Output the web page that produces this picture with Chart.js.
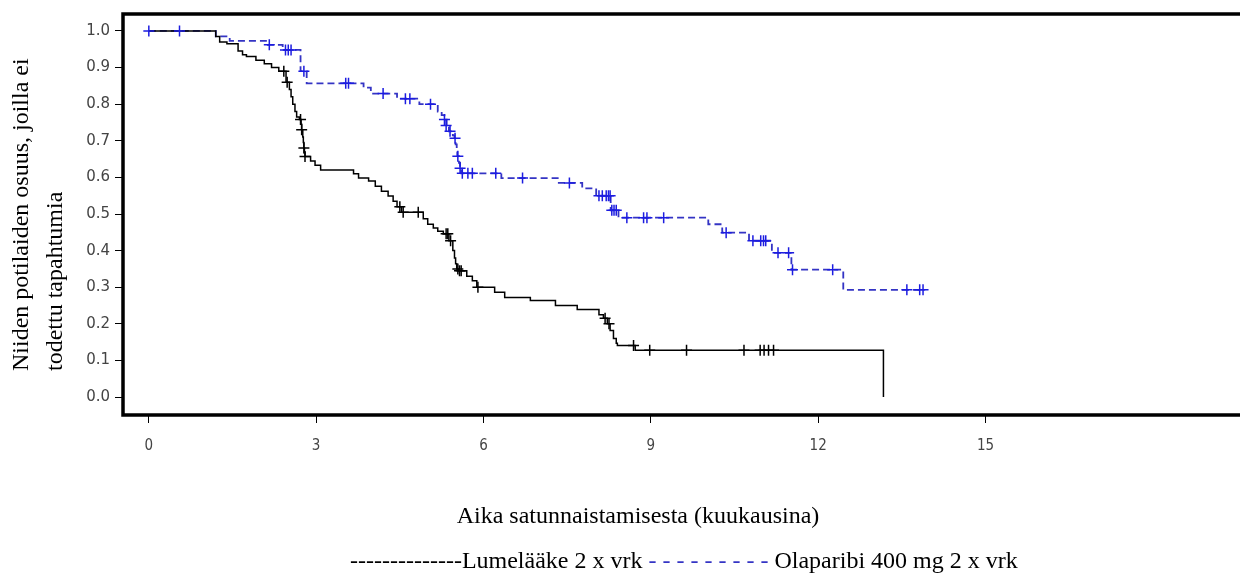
<!DOCTYPE html>
<html><head><meta charset="utf-8">
<script src="https://cdn.jsdelivr.net/npm/chart.js@4/dist/chart.umd.min.js"></script>
<style>html,body{margin:0;padding:0;background:#fff;overflow:hidden}</style>
</head><body>
<canvas id="c" width="1240" height="579"></canvas>
<script>
// ---- data ----
const xTicks = [0, 3, 6, 9, 12, 15];
const yTicks = [0, 0.1, 0.2, 0.3, 0.4, 0.5, 0.6, 0.7, 0.8, 0.9, 1.0];
const yTickLabels = ['0.0','0.1','0.2','0.3','0.4','0.5','0.6','0.7','0.8','0.9','1.0'];

const olaTimes = [0, 1.20, 1.45, 2.10, 2.40, 2.72, 2.83, 3.85, 3.98, 4.45, 4.85, 5.18, 5.25, 5.30, 5.34, 5.38, 5.45, 5.48, 5.50, 5.52, 5.53, 5.56, 5.58, 5.60, 6.32, 7.35, 7.77, 8.02, 8.28, 8.42, 10.03, 10.28, 10.76, 11.17, 11.52, 12.45, 13.90];
const olaSurv  = [1.0, 0.985, 0.973, 0.962, 0.948, 0.89, 0.857, 0.845, 0.829, 0.815, 0.80, 0.78, 0.77, 0.758, 0.742, 0.726, 0.715, 0.707, 0.69, 0.675, 0.658, 0.64, 0.625, 0.611, 0.598, 0.585, 0.57, 0.55, 0.51, 0.49, 0.472, 0.449, 0.427, 0.394, 0.348, 0.293, 0.293];
const olaCensorTimes = [0, 0.55, 2.16, 2.45, 2.50, 2.55, 2.78, 3.53, 3.58, 4.20, 4.60, 4.68, 5.05, 5.30, 5.33, 5.40, 5.49, 5.54, 5.58, 5.62, 5.72, 5.80, 6.22, 6.70, 7.54, 8.07, 8.13, 8.20, 8.24, 8.27, 8.30, 8.34, 8.38, 8.57, 8.87, 8.93, 9.23, 10.35, 10.83, 10.97, 11.02, 11.06, 11.28, 11.47, 11.54, 12.26, 13.59, 13.82, 13.88];
const olaCensorSurv  = [1, 1, 0.962, 0.948, 0.948, 0.948, 0.89, 0.857, 0.857, 0.829, 0.815, 0.815, 0.80, 0.758, 0.742, 0.726, 0.707, 0.658, 0.625, 0.611, 0.611, 0.611, 0.611, 0.598, 0.585, 0.55, 0.55, 0.55, 0.55, 0.55, 0.51, 0.51, 0.51, 0.49, 0.49, 0.49, 0.49, 0.449, 0.427, 0.427, 0.427, 0.427, 0.394, 0.394, 0.348, 0.348, 0.293, 0.293, 0.293];

const plaTimes = [0, 1.20, 1.27, 1.40, 1.60, 1.68, 1.75, 1.92, 2.07, 2.20, 2.33, 2.46, 2.52, 2.55, 2.58, 2.62, 2.65, 2.70, 2.73, 2.74, 2.76, 2.77, 2.78, 2.79, 2.80, 2.90, 2.98, 3.08, 3.67, 3.76, 3.94, 4.06, 4.17, 4.29, 4.38, 4.45, 4.53, 4.92, 5.00, 5.10, 5.18, 5.28, 5.38, 5.45, 5.48, 5.50, 5.52, 5.55, 5.70, 5.80, 5.88, 6.20, 6.38, 6.84, 7.29, 7.68, 8.07, 8.15, 8.22, 8.27, 8.33, 8.38, 8.40, 8.72, 13.17];
const plaSurv  = [1.0, 0.985, 0.97, 0.965, 0.945, 0.935, 0.93, 0.92, 0.91, 0.90, 0.89, 0.86, 0.84, 0.82, 0.80, 0.78, 0.765, 0.758, 0.745, 0.73, 0.71, 0.695, 0.68, 0.667, 0.657, 0.645, 0.633, 0.62, 0.61, 0.598, 0.59, 0.576, 0.562, 0.549, 0.535, 0.52, 0.505, 0.487, 0.472, 0.462, 0.453, 0.446, 0.427, 0.40, 0.38, 0.364, 0.35, 0.345, 0.33, 0.318, 0.30, 0.286, 0.272, 0.264, 0.25, 0.239, 0.225, 0.215, 0.20, 0.182, 0.16, 0.147, 0.141, 0.128, 0.0];
const plaCensorTimes = [2.42, 2.48, 2.72, 2.74, 2.78, 2.80, 4.50, 4.56, 4.83, 5.33, 5.36, 5.41, 5.54, 5.57, 5.60, 5.90, 8.18, 8.25, 8.69, 8.98, 9.64, 10.67, 10.96, 11.03, 11.11, 11.20];
const plaCensorSurv  = [0.89, 0.86, 0.758, 0.73, 0.68, 0.657, 0.52, 0.505, 0.505, 0.446, 0.446, 0.427, 0.35, 0.345, 0.345, 0.30, 0.215, 0.20, 0.141, 0.128, 0.128, 0.128, 0.128, 0.128, 0.128, 0.128];

const seriesNames = ['Lumelääke 2 x vrk', 'Olaparibi 400 mg 2 x vrk'];
const yTitleLines = ['Niiden potilaiden osuus, joilla ei', 'todettu tapahtumia'];
const xTitle = 'Aika satunnaistamisesta (kuukausina)';

const BLUE = '#3434c4';
const BLUE_MARK = '#1c1ce0';
const pts = (xs, ys) => xs.map((x, i) => ({x, y: ys[i]}));

const deco = {
  id: 'deco',
  afterDraw(chart) {
    const {ctx, chartArea: a} = chart;
    ctx.save();
    ctx.strokeStyle = '#000';
    ctx.lineWidth = 3.5;
    ctx.beginPath();
    ctx.moveTo(1240, a.top);
    ctx.lineTo(a.left, a.top);
    ctx.lineTo(a.left, a.bottom);
    ctx.lineTo(1240, a.bottom);
    ctx.stroke();

    ctx.fillStyle = '#000';
    ctx.font = '24px "Liberation Serif", "Times New Roman", serif';
    ctx.textBaseline = 'middle';
    const yStarts = [[22, 371], [56, 371]];
    yTitleLines.forEach((t, i) => {
      ctx.save();
      ctx.translate(yStarts[i][0], yStarts[i][1]);
      ctx.rotate(-Math.PI / 2);
      ctx.textAlign = 'left';
      ctx.fillText(t, 0, 0);
      ctx.restore();
    });
    ctx.textAlign = 'center';
    ctx.fillText(xTitle, 638, 517);
    ctx.textAlign = 'left';
    const parts = [
      ['--------------' + seriesNames[0] + ' ', '#000'],
      ['- - - - - - - - -', BLUE],
      [' ' + seriesNames[1], '#000']
    ];
    let x = 350;
    parts.forEach(([t, c]) => {
      ctx.fillStyle = c;
      ctx.fillText(t, x, 562);
      x += ctx.measureText(t).width;
    });
    ctx.restore();
  }
};

new Chart(document.getElementById('c'), {
  type: 'scatter',
  data: {
    datasets: [
      { label: 'ola-censor', data: pts(olaCensorTimes, olaCensorSurv), showLine: false,
        pointStyle: 'cross', pointRadius: 5.5, borderColor: BLUE_MARK, borderWidth: 1.5, order: 0 },
      { label: 'pla-censor', data: pts(plaCensorTimes, plaCensorSurv), showLine: false,
        pointStyle: 'cross', pointRadius: 5.5, borderColor: '#000', borderWidth: 1.5, order: 1 },
      { label: seriesNames[0], data: pts(plaTimes, plaSurv), showLine: true, stepped: true,
        borderColor: '#000', borderWidth: 1.5, pointRadius: 0, order: 2 },
      { label: seriesNames[1], data: pts(olaTimes, olaSurv), showLine: true, stepped: true,
        borderColor: BLUE, borderWidth: 1.8, borderDash: [7, 4], pointRadius: 0, order: 3 }
    ]
  },
  options: {
    responsive: false,
    animation: false,
    layout: { padding: { top: 12, right: 0, left: 0, bottom: 0 } },
    plugins: { legend: { display: false }, tooltip: { enabled: false } },
    scales: {
      x: {
        type: 'linear', min: -0.463, max: 19.437,
        afterBuildTicks: s => { s.ticks = xTicks.map(v => ({value: v})); },
        afterFit: s => { s.height = 164; },
        grid: { drawOnChartArea: false, drawTicks: true, tickLength: 8, color: '#000', lineWidth: 1 },
        border: { display: false },
        ticks: { padding: 14, color: '#444', font: { family: '"Liberation Sans Narrow", "DejaVu Sans Condensed", sans-serif', size: 15 },
                 callback: v => String(v), maxRotation: 0 }
      },
      y: {
        type: 'linear', min: -0.0489, max: 1.0462,
        afterBuildTicks: s => { s.ticks = yTicks.map(v => ({value: v})); },
        afterFit: s => { s.width = 123; },
        grid: { drawOnChartArea: false, drawTicks: true, tickLength: 8, color: '#000', lineWidth: 1 },
        border: { display: false },
        ticks: { padding: 5, color: '#444', font: { family: '"DejaVu Sans", sans-serif', size: 15 },
                 callback: v => yTickLabels[yTicks.findIndex(t => Math.abs(t - v) < 1e-6)] }
      }
    }
  },
  plugins: [deco]
});
</script>
</body></html>
